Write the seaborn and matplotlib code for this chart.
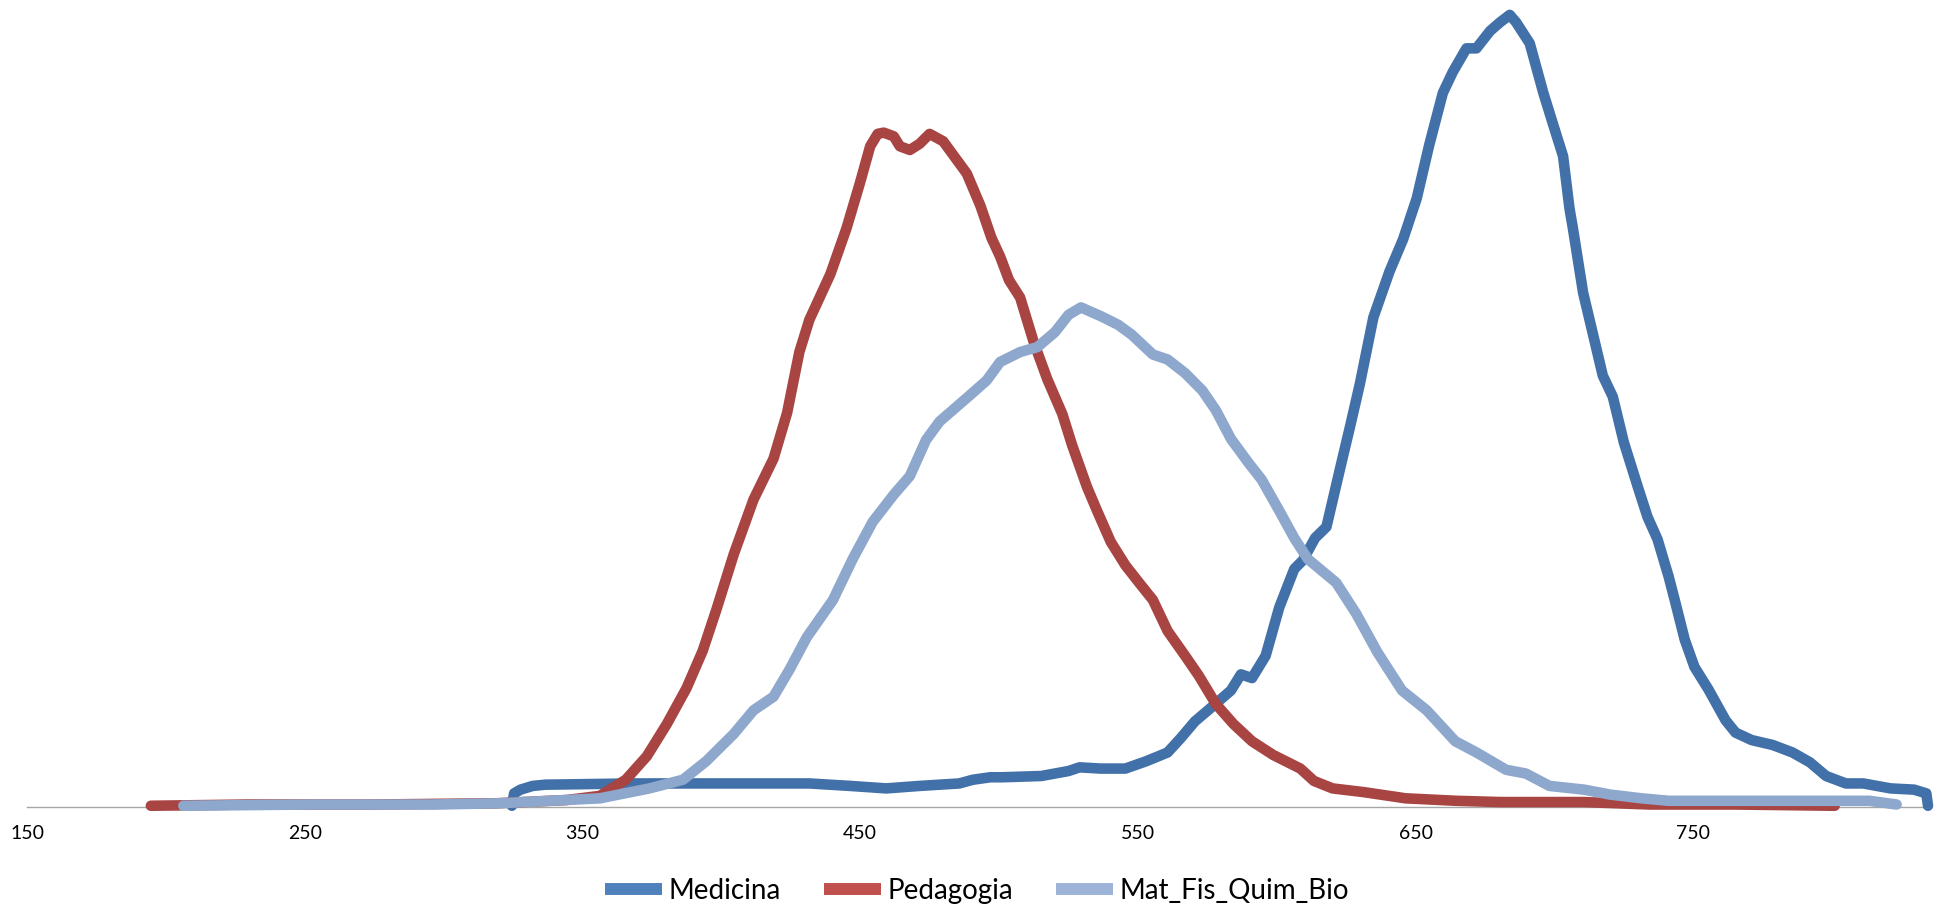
import matplotlib
matplotlib.use("Agg")
import matplotlib.pyplot as plt
from matplotlib.lines import Line2D
import seaborn as sns
import pandas as pd

# ---- data (score, frequency) ----
series_names = ["Medicina", "Pedagogia", "Mat_Fis_Quim_Bio"]

medicina_x = [324.6, 325.4, 327.7, 332.1, 336.6, 368.3, 408.0, 431.7, 446.4, 459.4, 471.4, 485.7, 490.6, 496.9,
              501.3, 515.2, 525.0, 529.0, 536.6, 545.5, 553.1, 560.7, 565.6, 570.5, 576.8, 583.5, 587.1, 591.1,
              596.0, 600.9, 606.3, 609.4, 613.8, 617.9, 622.8, 626.3, 629.9, 634.8, 640.6, 645.5, 650.4, 654.9,
              659.8, 663.4, 668.3, 671.9, 676.8, 680.4, 683.9, 686.2, 691.1, 696.0, 699.6, 703.1, 705.4, 706.7,
              710.3, 713.8, 717.4, 721.0, 725.0, 729.9, 733.5, 737.1, 741.1, 743.3, 746.9, 750.4, 755.4, 761.6,
              765.2, 771.0, 778.6, 785.7, 792.0, 797.8, 804.9, 811.2, 821.0, 829.5, 833.9, 834.5]
medicina_y = [0, 5, 6.5, 8, 8.5, 9, 9, 9, 8, 7, 8, 9, 10.5, 11.5,
              11.5, 12, 14, 15.5, 15, 15, 18, 21.5, 27.5, 34, 40, 46.5, 53, 51.5,
              60.5, 80, 95.5, 99, 108, 112.5, 136, 152.5, 170, 197, 215.5, 228.5, 245, 266.5,
              287.5, 296, 305.5, 305.5, 312.5, 316, 319, 316, 307.5, 287.5, 274.5, 262, 241, 232.5,
              207, 190.5, 173.5, 165, 146.5, 129, 116.5, 107.5, 92.5, 83, 67, 56, 47, 34.5,
              29.5, 26.5, 24.5, 21.5, 17.5, 12, 9, 9, 7, 6.5, 5, 0]

pedagogia_x = [194.6, 229.5, 274.1, 318.8, 344.2, 356.3, 365.6, 373.2, 380.4, 387.5, 393.3, 398.2, 404.5,
               411.6, 418.8, 423.7, 428.1, 431.7, 439.3, 445.1, 450.0, 453.6, 456.3, 458.5, 462.1, 464.3,
               467.9, 471.4, 475.0, 479.9, 484.8, 488.4, 493.3, 497.3, 500.4, 503.6, 507.6, 512.5, 517.4,
               522.8, 526.3, 531.7, 535.3, 540.2, 545.5, 550.4, 555.4, 560.7, 567.0, 571.9, 578.1, 584.4,
               591.1, 598.7, 608.5, 613.4, 620.1, 631.3, 646.4, 664.7, 680.4, 710.3, 734.4, 765.2, 800.9]
pedagogia_y = [0, 0.5, 0.5, 1, 2.3, 4, 10.5, 20, 33, 47.5, 62.5, 79, 101.5,
               123.5, 140, 158.5, 183, 196, 214.5, 233, 251.5, 266, 271, 271.5, 270, 266,
               264.5, 267, 271, 268, 260.5, 255, 242, 229, 221.5, 212, 205, 187, 172,
               158, 145.5, 128.5, 119, 106.5, 97, 90, 83, 70.5, 60.5, 52.5, 41, 33,
               26, 20.5, 15, 10, 7, 5.5, 3, 2, 1.5, 1.5, 0.5, 0.5, 0]

mat_x = [206.3, 251.8, 296.4, 320.1, 356.3, 374.1, 386.2, 394.6, 404.5, 411.6, 418.8, 424.6, 430.8,
         440.2, 447.3, 454.5, 462.1, 467.9, 473.7, 478.6, 488.4, 495.5, 500.4, 507.6, 513.8, 520.1,
         525.0, 529.5, 536.6, 542.9, 547.8, 555.4, 560.7, 567.0, 573.2, 578.1, 583.5, 589.7, 594.6,
         600.9, 606.3, 611.2, 621.4, 628.6, 636.2, 645.1, 654.0, 664.3, 671.9, 682.6, 689.7, 698.2,
         710.7, 720.1, 731.3, 741.1, 777.2, 813.4, 823.2]
mat_y = [0, 0.5, 0.5, 1, 3, 7, 10.5, 18, 29, 38.5, 44, 55, 68,
         83, 99.5, 114.5, 125.5, 133, 147.5, 155, 164.5, 171.5, 179, 183, 185, 191,
         198, 201, 197.5, 194, 190, 182, 180, 174.5, 167.5, 159.5, 148, 138.5, 131.5,
         119, 108, 99.5, 90, 77.5, 62, 46.5, 38.5, 26, 21.5, 14.5, 13, 8,
         6.5, 4.5, 3, 2, 2, 2, 0.5]

tick_values = [150, 250, 350, 450, 550, 650, 750]
tick_labels = ["150", "250", "350", "450", "550", "650", "750"]

line_colors = ["#4270A8", "#A84441", "#8EA7CD"]
legend_colors = ["#4F81BD", "#C0504D", "#9EB3D8"]

# ---- build long table ----
frames = []
for name, xs, ys in zip(series_names, [medicina_x, pedagogia_x, mat_x], [medicina_y, pedagogia_y, mat_y]):
    frames.append(pd.DataFrame({"score": xs, "freq": ys, "serie": name}))
df = pd.concat(frames, ignore_index=True)

sns.set_theme(style="white")
plt.rcParams["font.family"] = ["Lato", "DejaVu Sans"]

fig = plt.figure(figsize=(19.44, 9.10), dpi=100)
ax = fig.add_axes([27 / 1944, 103 / 910, 1901 / 1944, 807 / 910])

sns.lineplot(data=df, x="score", y="freq", hue="serie", hue_order=series_names,
             palette=dict(zip(series_names, line_colors)), estimator=None, sort=False,
             linewidth=7.6, legend=False, ax=ax)
for ln in ax.get_lines():
    ln.set_solid_capstyle("round")
    ln.set_solid_joinstyle("round")
    ln.set_clip_on(False)

ax.set_xlim(150, 834.5)
ax.set_ylim(-0.5, 325)
ax.set_xlabel("")
ax.set_ylabel("")
ax.set_yticks([])
ax.set_xticks(tick_values)
ax.set_xticklabels(tick_labels, fontsize=14, color="#000000")
ax.tick_params(axis="x", length=0, pad=13)
for side in ["top", "left", "right"]:
    ax.spines[side].set_visible(False)
ax.spines["bottom"].set_color("#A6A6A6")
ax.spines["bottom"].set_linewidth(1.0)
ax.spines["bottom"].set_zorder(0.5)
ax.set_facecolor("white")
fig.patch.set_facecolor("white")

handles = [Line2D([0], [0], color=c, linewidth=8.6, solid_capstyle="butt") for c in legend_colors]
fig.legend(handles, series_names, loc="center", bbox_to_anchor=(0.5026, 19 / 910), ncol=3,
           frameon=False, fontsize=20, handlelength=2.05, handletextpad=0.24, columnspacing=1.55,
           labelcolor="#000000", borderpad=0.0)

fig.savefig("out.png", dpi=100, facecolor="white")
